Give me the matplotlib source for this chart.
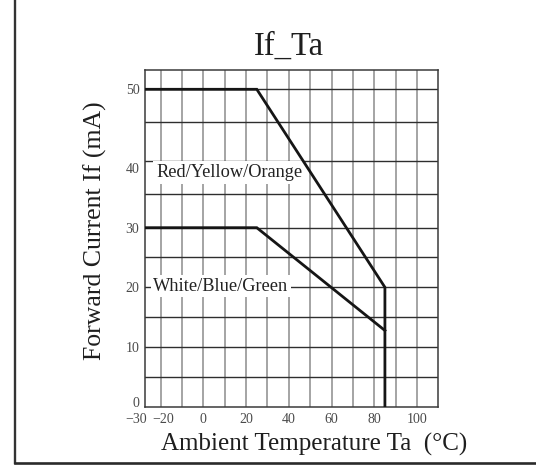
import numpy as np
import matplotlib
matplotlib.use("Agg")
import matplotlib.pyplot as plt
from matplotlib.lines import Line2D
from matplotlib.ticker import FixedLocator
from matplotlib.transforms import ScaledTranslation

# Derating curves: max forward current (mA) against ambient temperature (°C)
ta_ryo = [-30, 25, 85, 85]
if_ryo = [50, 50, 20, 0]
ta_wbg = [-30, 25, 85]
if_wbg = [30, 30, 12.8]

label_ryo = "Red/Yellow/Orange"
label_wbg = "White/Blue/Green"

x_ticks = [-30, -20, 0, 20, 40, 60, 80, 100]
y_ticks = [0, 10, 20, 30, 40, 50]
x_grid = list(range(-20, 101, 10))
y_grid = list(range(5, 51, 5))

# Ruling of the graph paper (value -> ruled distance), not evenly spaced
x_rule_val = [-30, -20, 110]
x_rule_pos = [0.0, 15.7, 293.3]
y_rule_val = [0, 5, 10, 15, 20, 25, 30, 35, 40, 45, 50, 53]
y_rule_pos = [0, 30, 60, 90, 120, 150, 179.6, 213, 246, 285, 318, 337.8]


def piecewise(v, xp, fp):
    v = np.asarray(v, dtype=float)
    out = np.interp(v, xp, fp)
    lo_slope = (fp[1] - fp[0]) / (xp[1] - xp[0])
    hi_slope = (fp[-1] - fp[-2]) / (xp[-1] - xp[-2])
    out = np.where(v < xp[0], fp[0] + (v - xp[0]) * lo_slope, out)
    out = np.where(v > xp[-1], fp[-1] + (v - xp[-1]) * hi_slope, out)
    return out


plt.rcParams["font.family"] = ["Liberation Serif", "DejaVu Serif"]

fig = plt.figure(figsize=(5.36, 4.74), dpi=100)
W, H = 536.0, 474.0
ax = fig.add_axes([145 / W, (H - 407.3) / H, 293.3 / W, 337.8 / H])

ax.set_xscale("function", functions=(lambda v: piecewise(v, x_rule_val, x_rule_pos),
                                     lambda p: piecewise(p, x_rule_pos, x_rule_val)))
ax.set_yscale("function", functions=(lambda v: piecewise(v, y_rule_val, y_rule_pos),
                                     lambda p: piecewise(p, y_rule_pos, y_rule_val)))
ax.set_xlim(x_rule_val[0], x_rule_val[-1])
ax.set_ylim(y_rule_val[0], y_rule_val[-1])

# grid ruling (on minor locators that keep positions shared with labelled ticks)
ax.xaxis.remove_overlapping_locs = False
ax.yaxis.remove_overlapping_locs = False
ax.xaxis.set_minor_locator(FixedLocator(x_grid))
ax.yaxis.set_minor_locator(FixedLocator(y_grid))
ax.xaxis.grid(True, which="minor", color="#8c8c8c", lw=1.1)
ax.yaxis.grid(True, which="minor", color="#2e2e2e", lw=1.0)
ax.xaxis.grid(False, which="major")
ax.yaxis.grid(False, which="major")
ax.set_axisbelow(True)

fmt = lambda v: str(v).replace("-", "\u2212")
ax.set_xticks(x_ticks, labels=[fmt(v) for v in x_ticks])
ax.set_yticks(y_ticks, labels=[fmt(v) for v in y_ticks])
ax.tick_params(which="both", length=0, labelsize=10, labelcolor="#4a4a4a")
ax.tick_params(axis="x", pad=4)
ax.tick_params(axis="y", pad=4)

for s in ax.spines.values():
    s.set_color("#3a3a3a")
    s.set_linewidth(1.1)

# derating curves
ax.plot(ta_ryo, if_ryo, color="#151515", lw=2.0, zorder=4, solid_joinstyle="miter")
ax.plot(ta_wbg, if_wbg, color="#151515", lw=2.0, zorder=4, solid_joinstyle="miter")

box = dict(boxstyle="square,pad=0.15", fc="white", ec="none")
ax.text(-23, 38.3, label_ryo, fontsize=13.2, color="#222222", ha="left", va="center",
        bbox=box, zorder=3)
ax.text(-24.7, 20.2, label_wbg, fontsize=13.2, color="#222222", ha="left", va="center",
        bbox=box, zorder=3)

ax.set_title("If_Ta", fontsize=23.5, pad=10.9, x=0.49, color="#1e1e1e")
ax.set_xlabel("Ambient Temperature Ta  (°C)", fontsize=18, color="#1e1e1e")
ax.xaxis.set_label_coords(0.575, -0.128)
ax.xaxis.label.set_va("baseline")
ax.set_ylabel("Forward Current If (mA)", fontsize=18.5, color="#1e1e1e")
ax.yaxis.set_label_coords(-0.1705, 0.5225)
ax.yaxis.label.set_va("center")

# nudge crowded tick labels apart
def nudge(label, dx, dy):
    label.set_transform(label.get_transform() +
                        ScaledTranslation(dx / 100, dy / 100, fig.dpi_scale_trans))

xl = ax.get_xticklabels()
nudge(xl[0], -9, 0)
nudge(xl[1], 3, 0)
yl = ax.get_yticklabels()
nudge(yl[0], 0, 5.5)
nudge(yl[4], 0, -7)

# page border
fig.add_artist(Line2D([15 / W, 15 / W], [1.0, (H - 462.7) / H], transform=fig.transFigure,
                      color="#333333", lw=1.7))
fig.add_artist(Line2D([15 / W, 1.0], [(H - 462.7) / H, (H - 462.7) / H],
                      transform=fig.transFigure, color="#2a2a2a", lw=1.9))

fig.savefig("out.png", dpi=100)
